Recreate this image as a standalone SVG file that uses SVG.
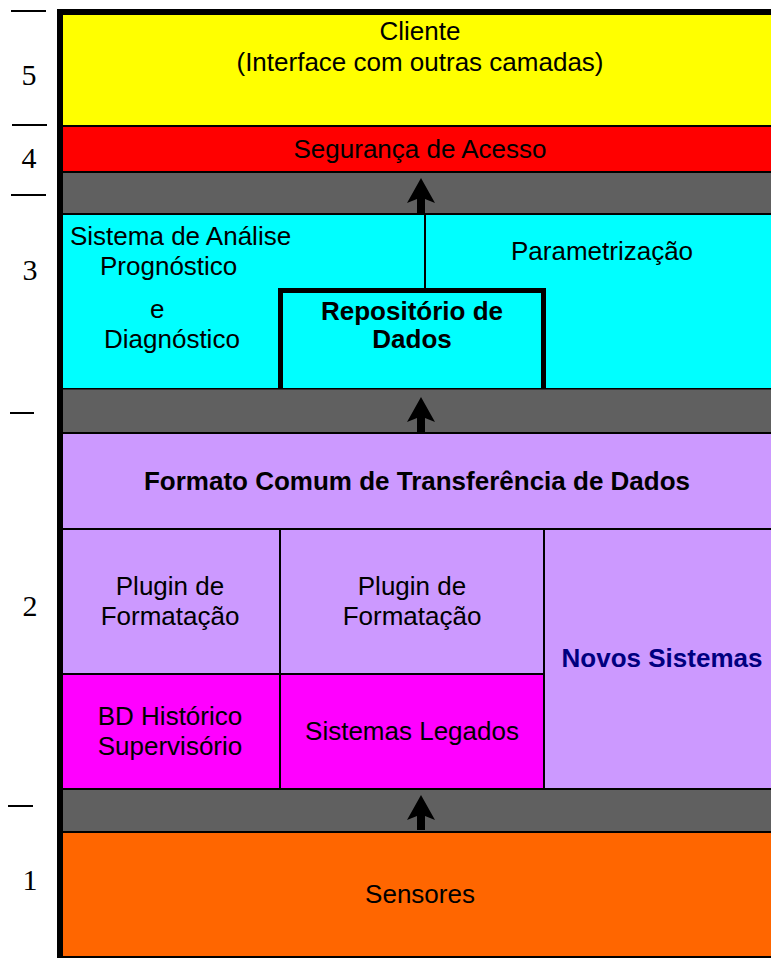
<svg xmlns="http://www.w3.org/2000/svg" width="771" height="958" viewBox="0 0 771 958">
<style>
.t{font-family:"Liberation Sans",Arial,sans-serif;font-size:26px;fill:#000}
.c{text-anchor:middle}
.b{font-weight:bold}
.n{font-family:"Liberation Serif","Times New Roman",serif;font-size:30px;fill:#000;text-anchor:middle}
.tick{stroke:#000;stroke-width:2}
.band{fill:#606060}
</style>
<defs>
<path id="arr" d="M0,0 L14,25 L4,21 L4,35 L-4,35 L-4,21 L-14,25 Z" fill="#000"/>
</defs>
<rect x="0" y="0" width="771" height="958" fill="#fff"/>
<g id="scale">
<line class="tick" x1="11" y1="11" x2="46" y2="11"/>
<line class="tick" x1="12" y1="125" x2="47" y2="125"/>
<line class="tick" x1="11" y1="195" x2="46" y2="195"/>
<line class="tick" x1="10" y1="413" x2="34" y2="413"/>
<line class="tick" x1="8" y1="806" x2="33" y2="806"/>
<text class="n" x="29" y="85">5</text>
<text class="n" x="29" y="168">4</text>
<text class="n" x="30" y="280">3</text>
<text class="n" x="30" y="616">2</text>
<text class="n" x="30" y="890">1</text>
</g>
<g id="frame">
<rect x="57" y="9" width="720" height="955" fill="#000"/>
</g>
<g id="cliente">
<rect x="63" y="15" width="710" height="110" fill="#FFFF00"/>
<text class="t c" x="420" y="40">Cliente</text>
<text class="t c" x="420" y="71">(Interface com outras camadas)</text>
</g>
<g id="seguranca">
<rect x="63" y="127" width="710" height="44" fill="#FF0000"/>
<text class="t c" x="420" y="158">Segurança de Acesso</text>
</g>
<g id="band1"><rect class="band" x="63" y="173" width="710" height="40"/></g>
<g id="camada3">
<rect x="63" y="215" width="710" height="173" fill="#00FFFF"/>
</g>
<g id="analise">
<text class="t" x="70" y="245">Sistema de Análise</text>
<text class="t" x="100" y="275">Prognóstico</text>
<text class="t" x="150" y="318">e</text>
<text class="t" x="104" y="348">Diagnóstico</text>
</g>
<g id="parametrizacao">
<text class="t" x="511" y="260">Parametrização</text>
</g>
<g id="repositorio">
<path d="M280.5,388 L280.5,290.5 L543.5,290.5 L543.5,388" fill="#00FFFF" stroke="#000" stroke-width="5"/>
<text class="t c b" x="412" y="320">Repositório de</text>
<text class="t c b" x="412" y="348">Dados</text>
</g>
<g id="band2"><rect class="band" x="63" y="389.5" width="710" height="42.5"/></g>
<g id="formato">
<rect x="63" y="434" width="710" height="94" fill="#CC99FF"/>
<text class="t c b" x="417" y="490">Formato Comum de Transferência de Dados</text>
</g>
<g id="plugin1">
<rect x="63" y="530" width="216" height="143" fill="#CC99FF"/>
<text class="t c" x="170" y="595">Plugin de</text>
<text class="t c" x="170" y="625">Formatação</text>
</g>
<g id="plugin2">
<rect x="281" y="530" width="262" height="143" fill="#CC99FF"/>
<text class="t c" x="412" y="595">Plugin de</text>
<text class="t c" x="412" y="625">Formatação</text>
</g>
<g id="novos">
<rect x="545" y="530" width="228" height="258" fill="#CC99FF"/>
<text class="t c b" x="662" y="667" style="fill:#000080">Novos Sistemas</text>
</g>
<g id="bdhistorico">
<rect x="63" y="675" width="216" height="113" fill="#FF00FF"/>
<text class="t c" x="170" y="725">BD Histórico</text>
<text class="t c" x="170" y="755">Supervisório</text>
</g>
<g id="legados">
<rect x="281" y="675" width="262" height="113" fill="#FF00FF"/>
<text class="t c" x="412" y="740">Sistemas Legados</text>
</g>
<g id="band3"><rect class="band" x="63" y="790" width="710" height="41"/></g>
<g id="sensores">
<rect x="63" y="833" width="710" height="123" fill="#FF6600"/>
<text class="t c" x="420" y="903">Sensores</text>
</g>
<g id="connectors">
<line x1="425" y1="215" x2="425" y2="290" stroke="#000" stroke-width="2"/>
<use href="#arr" x="421" y="178"/>
<use href="#arr" x="421" y="397"/>
<use href="#arr" x="421" y="795"/>
</g>
</svg>
